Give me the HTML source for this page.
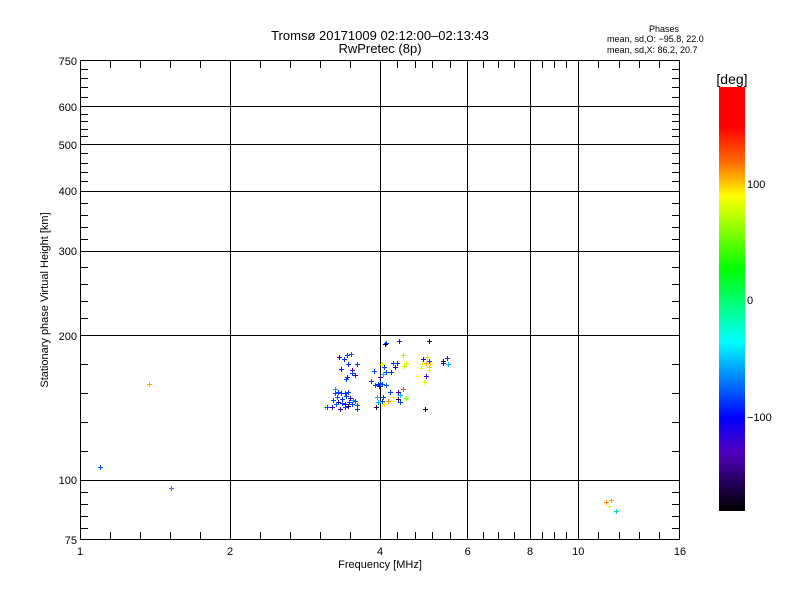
<!DOCTYPE html>
<html><head><meta charset="utf-8"><style>
html,body{margin:0;padding:0;background:#fff;}
svg{display:block;}
text{font-family:"Liberation Sans",sans-serif;fill:#000;}
</style></head><body>
<svg width="800" height="600" viewBox="0 0 800 600" xmlns="http://www.w3.org/2000/svg">
<defs>
<linearGradient id="cb" x1="0" y1="0" x2="0" y2="1">
<stop offset="0" stop-color="#ff0000"/>
<stop offset="0.094" stop-color="#ff0000"/>
<stop offset="0.18" stop-color="#ff7000"/>
<stop offset="0.257" stop-color="#ffff00"/>
<stop offset="0.43" stop-color="#00ff00"/>
<stop offset="0.60" stop-color="#00ffff"/>
<stop offset="0.78" stop-color="#0000ff"/>
<stop offset="0.86" stop-color="#5000c0"/>
<stop offset="1" stop-color="#000000"/>
</linearGradient>
</defs>
<text x="380" y="40" font-size="13" text-anchor="middle">Tromsø 20171009 02:12:00–02:13:43</text>
<text x="380" y="53" font-size="13" text-anchor="middle">RwPretec (8p)</text>
<text x="664" y="32" font-size="9" text-anchor="middle">Phases</text>
<text x="607" y="42" font-size="9">mean, sd,O: −95.8, 22.0</text>
<text x="607" y="53" font-size="9">mean, sd,X:  86.2, 20.7</text>
<g stroke="#000" stroke-width="1" fill="none">
<rect x="80.5" y="60.5" width="599" height="479"/>
<path d="M230.5 60V540M380.5 60V540M467.5 60V540M530.5 60V540M578.5 60V540"/>
<path d="M80 106.5H680M80 144.5H680M80 191.5H680M80 251.5H680M80 335.5H680M80 480.5H680"/>
<path d="M110.5 540v-8M140.5 540v-8M170.5 540v-8M200.5 540v-8M260.5 540v-8M290.5 540v-8M320.5 540v-8M350.5 540v-8M397.5 540v-8M415.5 540v-8M432.5 540v-8M450.5 540v-8M483.5 540v-8M498.5 540v-8M514.5 540v-8M542.5 540v-8M554.5 540v-8M566.5 540v-8M598.5 540v-8M619.5 540v-8M639.5 540v-8M659.5 540v-8"/>
<path d="M110.5 60v8M140.5 60v8M170.5 60v8M200.5 60v8M260.5 60v8M290.5 60v8M320.5 60v8M350.5 60v8M397.5 60v8M415.5 60v8M432.5 60v8M450.5 60v8M483.5 60v8M498.5 60v8M514.5 60v8M542.5 60v8M554.5 60v8M566.5 60v8M598.5 60v8M619.5 60v8M639.5 60v8M659.5 60v8"/>
<path d="M80 69.5h8M80 78.5h8M80 87.5h8M80 97.5h8M80 114.5h8M80 121.5h8M80 129.5h8M80 136.5h8M80 153.5h8M80 163.5h8M80 172.5h8M80 181.5h8M80 203.5h8M80 215.5h8M80 227.5h8M80 239.5h8M80 267.5h8M80 284.5h8M80 301.5h8M80 318.5h8M80 364.5h8M80 393.5h8M80 422.5h8M80 451.5h8M80 492.5h8M80 504.5h8M80 516.5h8M80 528.5h8"/>
<path d="M680 69.5h-8M680 78.5h-8M680 87.5h-8M680 97.5h-8M680 114.5h-8M680 121.5h-8M680 129.5h-8M680 136.5h-8M680 153.5h-8M680 163.5h-8M680 172.5h-8M680 181.5h-8M680 203.5h-8M680 215.5h-8M680 227.5h-8M680 239.5h-8M680 267.5h-8M680 284.5h-8M680 301.5h-8M680 318.5h-8M680 364.5h-8M680 393.5h-8M680 422.5h-8M680 451.5h-8M680 492.5h-8M680 504.5h-8M680 516.5h-8M680 528.5h-8"/>
</g>
<g font-size="11" text-anchor="middle">
<text x="80" y="555">1</text><text x="230" y="555">2</text><text x="380" y="555">4</text><text x="467.7" y="555">6</text><text x="530" y="555">8</text><text x="578.3" y="555">10</text><text x="680" y="555">16</text>
</g>
<g font-size="11" text-anchor="end">
<text x="77" y="65">750</text><text x="77" y="111">600</text><text x="77" y="149">500</text><text x="77" y="195">400</text><text x="77" y="255">300</text><text x="77" y="340">200</text><text x="77" y="484">100</text><text x="77" y="544">75</text>
</g>
<text x="380" y="568" font-size="11" text-anchor="middle">Frequency [MHz]</text>
<text transform="translate(48,300) rotate(-90)" font-size="11" text-anchor="middle">Stationary phase Virtual Height [km]</text>
<rect x="719" y="87" width="26" height="424" fill="url(#cb)"/>
<text x="732" y="84" font-size="14" text-anchor="middle">[deg]</text>
<g font-size="11"><text x="747" y="188">100</text><text x="747" y="304">0</text><text x="747" y="421">−100</text></g>
<g stroke-width="1" id="pts" shape-rendering="crispEdges"></g>
</svg>
<script>
var P=[
[386,343,"#0040ff"],[399,341,"#2000c0"],[385,344,"#200040"],[339,357,"#4000c0"],[347,355,"#0040ff"],[351,354,"#0060ff"],[344,359,"#0030ff"],[348,364,"#0030ff"],[357,364,"#0030ff"],[341,369,"#0020ff"],[352,370,"#5000b0"],[352,373,"#0040ff"],[347,377,"#400080"],[355,375,"#5000b0"],[346,379,"#0040ff"],
[403,355,"#a0ff00"],[382,364,"#e0ff00"],[393,363,"#0040ff"],[397,363,"#0030ff"],[395,367,"#2000d0"],[406,363,"#e0ff00"],[404,366,"#c0ff00"],[384,367,"#0040ff"],[374,371,"#0040ff"],[386,372,"#0040ff"],[391,372,"#0030ff"],[383,374,"#00c0ff"],
[427,357,"#a0ff00"],[426,363,"#ffa000"],[430,363,"#ffe000"],[422,364,"#ffff00"],[429,367,"#ffd000"],[421,368,"#ffff00"],[429,370,"#e0ff00"],[429,361,"#0040ff"],[423,359,"#4000c0"],[447,358,"#2020ff"],[443,363,"#300080"],[448,364,"#00c0ff"],[443,361,"#200040"],
[417,376,"#ffff00"],[424,382,"#e0ff00"],[426,376,"#4000c0"],[371,381,"#0040ff"],[380,377,"#300070"],
[375,385,"#0040ff"],[378,384,"#0030ff"],[380,383,"#0040ff"],[379,386,"#2000d0"],[382,384,"#0040ff"],[386,385,"#0060ff"],
[383,397,"#0040ff"],[390,392,"#0040ff"],[398,392,"#4000c0"],[403,389,"#ff5000"],[400,395,"#00c0ff"],[406,398,"#80ff00"],[393,397,"#ffff00"],[377,397,"#00c0ff"],[382,401,"#0040ff"],[388,401,"#ff9000"],[393,401,"#ffff00"],[398,399,"#300060"],[378,402,"#00c0ff"],[384,404,"#ffe000"],[400,402,"#0040ff"],[376,407,"#200040"],[425,409,"#100020"],
[335,389,"#00a0ff"],[338,392,"#0040ff"],[341,393,"#0030ff"],[345,393,"#0040ff"],[348,392,"#0040ff"],[335,393,"#0040ff"],[337,397,"#0060ff"],[342,399,"#0030ff"],[346,396,"#0040ff"],[350,398,"#2000d0"],[353,400,"#00a0ff"],[355,401,"#0040ff"],[338,402,"#4000c0"],[342,403,"#0040ff"],[345,404,"#2000d0"],[349,402,"#0040ff"],[352,404,"#0040ff"],[357,405,"#0040ff"],[325,407,"#80ff00"],[327,407,"#0040ff"],[332,407,"#4000c0"],[340,409,"#4000c0"],[345,407,"#0040ff"],[357,409,"#0040ff"],[336,404,"#0060ff"],[333,400,"#0040ff"],[348,406,"#300080"],
[100,467,"#0060ff"],[149,384,"#ffa000"],[171,488,"#4060ff"],[606,502,"#ff9000"],[611,500,"#ffa000"],[609,506,"#e0ff00"],[616,511,"#00d0d0"],[429,341,"#200040"],[399,341,"#4000c0"]
];
var g=document.getElementById('pts'),s='';
P.forEach(function(p){s+='<path fill="none" stroke="'+p[2]+'" d="M'+(p[0]-2)+' '+(p[1]+0.5)+'h5M'+(p[0]+0.5)+' '+(p[1]-2)+'v5"/>';});
g.innerHTML=s;
</script>
</body></html>
